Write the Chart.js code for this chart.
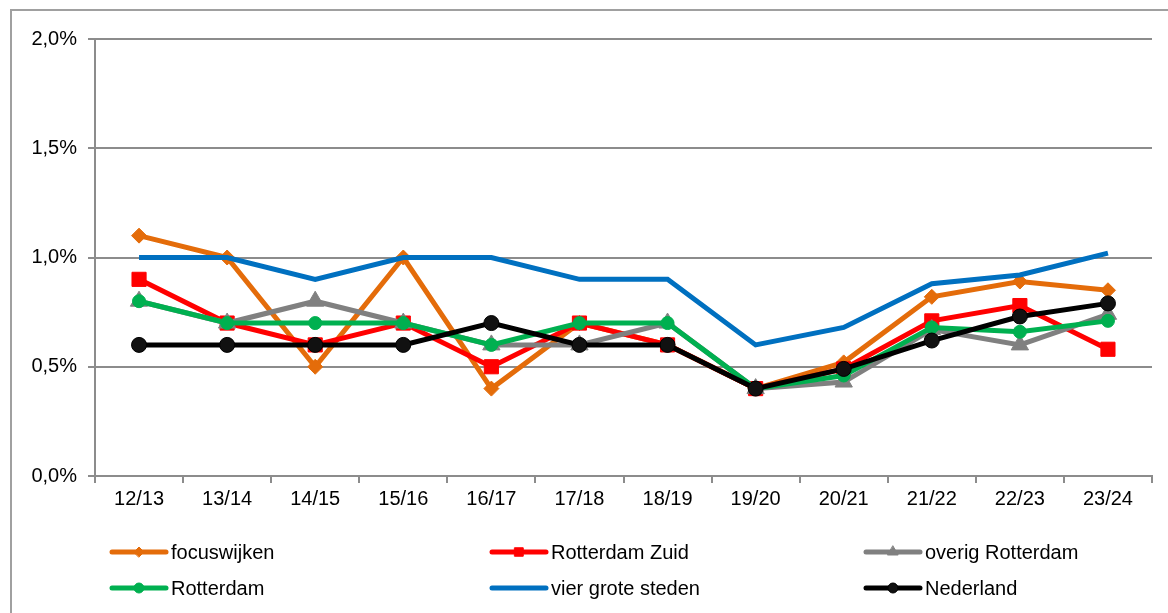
<!DOCTYPE html>
<html>
<head>
<meta charset="utf-8">
<script src="https://cdn.jsdelivr.net/npm/chart.js@4.4.1/dist/chart.umd.min.js"></script>
<style>
  html, body { margin: 0; padding: 0; background: #fff; }
  #wrap { width: 1168px; height: 613px; position: relative; }
</style>
</head>
<body>
<div id="wrap"><canvas id="c" width="1168" height="613"></canvas></div>
<script>
// schooljaren
const categories = ["12/13", "13/14", "14/15", "15/16", "16/17", "17/18", "18/19", "19/20", "20/21", "21/22", "22/23", "23/24"];

// waarden in procenten
const focuswijken     = [1.1, 1.0, 0.5, 1.0, 0.4, 0.7, 0.6, 0.4, 0.52, 0.82, 0.89, 0.85];
const rotterdamZuid   = [0.9, 0.7, 0.6, 0.7, 0.5, 0.7, 0.6, 0.4, 0.49, 0.71, 0.78, 0.58];
const overigRotterdam = [0.8, 0.7, 0.8, 0.7, 0.6, 0.6, 0.7, 0.4, 0.43, 0.67, 0.60, 0.74];
const rotterdam       = [0.8, 0.7, 0.7, 0.7, 0.6, 0.7, 0.7, 0.4, 0.46, 0.68, 0.66, 0.71];
const vierGroteSteden = [1.0, 1.0, 0.9, 1.0, 1.0, 0.9, 0.9, 0.6, 0.68, 0.88, 0.92, 1.02];
const nederland       = [0.6, 0.6, 0.6, 0.6, 0.7, 0.6, 0.6, 0.4, 0.49, 0.62, 0.73, 0.79];

const yTicks = [0, 0.5, 1.0, 1.5, 2.0];

const FONT = "'Liberation Sans', Arial, sans-serif";
const GRID = "#8c8c8c";

function serie(label, data, color, style, radius, order) {
    return {
        label: label,
        data: data,
        borderColor: color,
        backgroundColor: color,
        pointBackgroundColor: color,
        pointBorderColor: color,
        pointBorderWidth: 1,
        pointStyle: style,
        pointRadius: radius,
        pointHoverRadius: radius,
        borderWidth: 5,
        tension: 0,
        order: order,
        legendRadius: 0,
    };
}

const datasets = [
    serie("focuswijken", focuswijken, "#e46c0a", "rectRot", 7.5, 6),
    serie("Rotterdam Zuid", rotterdamZuid, "#ff0000", "rect", 10, 5),
    serie("overig Rotterdam", overigRotterdam, "#808080", "triangle", 10, 4),
    serie("Rotterdam", rotterdam, "#00b050", "circle", 6.5, 3),
    serie("vier grote steden", vierGroteSteden, "#0070c0", false, 0, 2),
    serie("Nederland", nederland, "#000000", "circle", 7.5, 1),
];
datasets[5].pointBackgroundColor = "#111111";

// rand om de hele grafiek + legenda onderaan in 3 kolommen
const frameAndLegend = {
    id: "frameAndLegend",
    afterDraw(chart) {
        const ctx = chart.ctx;
        ctx.save();
        ctx.strokeStyle = "#a0a0a0";
        ctx.lineWidth = 2;
        ctx.beginPath();
        ctx.moveTo(11, 1200);
        ctx.lineTo(11, 10);
        ctx.lineTo(1200, 10);
        ctx.stroke();

        const colX = [112, 492, 866];
        const rowY = [552, 588];
        const legendSize = [5, 6, 6, 5, 0, 5];
        ctx.font = "20px " + FONT;
        ctx.textBaseline = "middle";
        chart.data.datasets.forEach((ds, i) => {
            const x = colX[i % 3];
            const y = rowY[Math.floor(i / 3)];
            ctx.strokeStyle = ds.borderColor;
            ctx.lineWidth = 5;
            ctx.lineCap = "round";
            ctx.beginPath();
            ctx.moveTo(x, y);
            ctx.lineTo(x + 54, y);
            ctx.stroke();
            if (ds.pointStyle) {
                ctx.fillStyle = ds.pointBackgroundColor;
                ctx.strokeStyle = ds.pointBorderColor;
                ctx.lineWidth = 1;
                Chart.helpers.drawPoint(ctx, {
                    pointStyle: ds.pointStyle,
                    radius: legendSize[i],
                    borderWidth: 1,
                    rotation: 0,
                }, x + 27, y);
            }
            ctx.fillStyle = "#000";
            ctx.fillText(ds.label, x + 59, y + 1);
        });
        ctx.restore();
    },
};

new Chart(document.getElementById("c"), {
    type: "line",
    data: { labels: categories, datasets: datasets },
    options: {
        responsive: false,
        animation: false,
        devicePixelRatio: 1,
        layout: { padding: { left: 0, top: 39, right: 16, bottom: 97 } },
        plugins: {
            legend: { display: false },
            tooltip: { enabled: false },
        },
        scales: {
            x: {
                offset: true,
                afterFit(scale) { scale.height = 40; },
                grid: {
                    offset: true,
                    drawOnChartArea: false,
                    drawTicks: true,
                    tickLength: 7,
                    color: GRID,
                    lineWidth: 2,
                },
                border: { display: true, color: GRID, width: 2 },
                ticks: {
                    color: "#000",
                    padding: 4,
                    maxRotation: 0,
                    font: { family: FONT, size: 20 },
                },
            },
            y: {
                min: 0,
                max: 2.0,
                afterFit(scale) { scale.width = 95; },
                afterBuildTicks(scale) { scale.ticks = yTicks.map(v => ({ value: v })); },
                grid: {
                    color: GRID,
                    lineWidth: 2,
                    tickLength: 7,
                    drawTicks: true,
                },
                border: { display: true, color: GRID, width: 2 },
                ticks: {
                    color: "#000",
                    padding: 11,
                    font: { family: FONT, size: 20 },
                    callback: v => v.toFixed(1).replace(".", ",") + "%",
                },
            },
        },
    },
    plugins: [frameAndLegend],
});
</script>
</body>
</html>
